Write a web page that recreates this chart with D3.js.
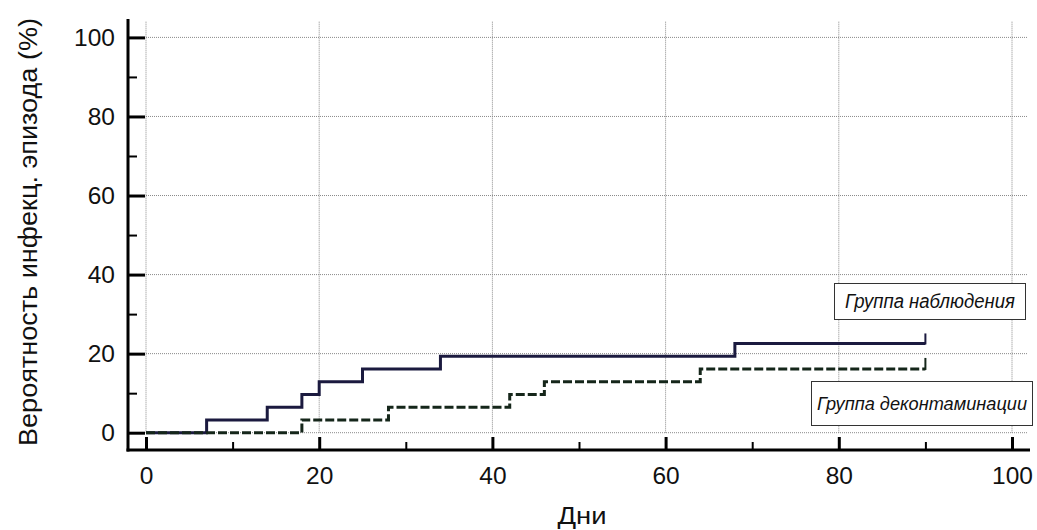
<!DOCTYPE html>
<html>
<head>
<meta charset="utf-8">
<script src="https://cdn.jsdelivr.net/npm/d3@7"></script>
<style>
  html, body { margin: 0; padding: 0; background: #fff; }
  svg { display: block; font-family: Arial, "Liberation Sans", sans-serif; }
</style>
</head>
<body>
<svg id="chart" width="1037" height="530"></svg>
<script>
// ---- data ----
const majorTicks = [0, 20, 40, 60, 80, 100];
const minorTicks = [10, 30, 50, 70, 90];
const seriesNames = ["Группа наблюдения", "Группа деконтаминации"];
// step functions: day at which the probability jumps, and new value (%)
const observDays   = [0, 7, 14, 18, 20, 25, 34, 68, 90];
const observValues = [0, 3.23, 6.45, 9.68, 12.9, 16.13, 19.35, 22.58, 22.58];
const deconDays    = [0, 18, 28, 42, 46, 64, 90];
const deconValues  = [0, 3.23, 6.45, 9.68, 12.9, 16.13, 16.13];
const xTitle = "Дни";
const yTitle = "Вероятность инфекц. эпизода (%)";

const svg = d3.select("#chart");
const x = d3.scaleLinear().domain([0, 100]).range([146, 1012]);
const y = d3.scaleLinear().domain([0, 100]).range([432.7, 37.4]);

const axisX = 128, axisY = 450;
const gridColor = "#8a8a8a";
const font = "Arial, 'Liberation Sans', sans-serif";

// grid
const grid = svg.append("g");
grid.selectAll("line.h").data(majorTicks).join("line")
  .attr("x1", x(0)).attr("x2", x(101.8))
  .attr("y1", d => y(d)).attr("y2", d => y(d))
  .attr("stroke", gridColor).attr("stroke-width", 1).attr("stroke-dasharray", "1,1");
grid.selectAll("line.v").data(majorTicks).join("line")
  .attr("y1", y(0)).attr("y2", y(104))
  .attr("x1", d => x(d)).attr("x2", d => x(d))
  .attr("stroke", gridColor).attr("stroke-width", 1).attr("stroke-dasharray", "1,1");

// axes
const yAxis = d3.axisLeft(y).tickValues(majorTicks).tickSizeInner(-17).tickSizeOuter(0).tickPadding(13);
const gy = svg.append("g").attr("transform", `translate(${axisX},0)`).call(yAxis);
const yMinor = d3.axisLeft(y).tickValues(minorTicks).tickSizeInner(-9).tickSizeOuter(0).tickFormat("");
const gym = svg.append("g").attr("transform", `translate(${axisX},0)`).call(yMinor);

const xAxis = d3.axisBottom(x).tickValues(majorTicks).tickSizeInner(-13).tickSizeOuter(0).tickPadding(17);
const gx = svg.append("g").attr("transform", `translate(0,${axisY})`).call(xAxis);
const xMinor = d3.axisBottom(x).tickValues(minorTicks).tickSizeInner(-8).tickSizeOuter(0).tickFormat("");
const gxm = svg.append("g").attr("transform", `translate(0,${axisY})`).call(xMinor);

[gy, gym, gx, gxm].forEach(g => {
  g.select(".domain").remove();
  g.selectAll(".tick text").attr("font-size", 24.5).attr("fill", "#111").attr("font-family", font);
});
gy.selectAll(".tick line").attr("stroke", "#000").attr("stroke-width", 3);
gx.selectAll(".tick line").attr("stroke", "#000").attr("stroke-width", 3);
gym.selectAll(".tick line").attr("stroke", "#000").attr("stroke-width", 2);
gxm.selectAll(".tick line").attr("stroke", "#000").attr("stroke-width", 2);

// axis lines
svg.append("line").attr("x1", axisX).attr("x2", axisX).attr("y1", 19).attr("y2", axisY + 1.5)
  .attr("stroke", "#000").attr("stroke-width", 3);
svg.append("line").attr("x1", axisX - 1.5).attr("x2", 1030).attr("y1", axisY).attr("y2", axisY)
  .attr("stroke", "#000").attr("stroke-width", 3);

// titles
svg.append("text").attr("x", 582).attr("y", 524).attr("text-anchor", "middle")
  .attr("font-size", 23.5).attr("fill", "#111")
  .attr("textLength", 49).attr("lengthAdjust", "spacingAndGlyphs").text(xTitle);
svg.append("text").attr("transform", `translate(37,232) rotate(-90)`)
  .attr("text-anchor", "middle").attr("font-size", 25).attr("fill", "#111")
  .attr("textLength", 428).attr("lengthAdjust", "spacingAndGlyphs").text(yTitle);

// step lines
const line = d3.line().x(d => x(d[0])).y(d => y(d[1])).curve(d3.curveStepAfter);
const observ = observDays.map((d, i) => [d, observValues[i]]);
const decon = deconDays.map((d, i) => [d, deconValues[i]]);

svg.append("path").datum(observ).attr("d", line)
  .attr("fill", "none").attr("stroke", "#1b1a3f").attr("stroke-width", 3).attr("stroke-linejoin", "miter");
svg.append("path").datum(decon).attr("d", line)
  .attr("fill", "none").attr("stroke", "#15261a").attr("stroke-width", 3).attr("stroke-dasharray", "9,3");

// censor marks at the end
const lastO = observ[observ.length - 1], lastD = decon[decon.length - 1];
svg.append("line").attr("x1", x(lastO[0])).attr("x2", x(lastO[0]))
  .attr("y1", y(lastO[1]) + 1).attr("y2", y(lastO[1]) - 10).attr("stroke", "#1b1a3f").attr("stroke-width", 2);
svg.append("line").attr("x1", x(lastD[0])).attr("x2", x(lastD[0]))
  .attr("y1", y(lastD[1]) + 1).attr("y2", y(lastD[1]) - 11).attr("stroke", "#15261a").attr("stroke-width", 2);

// labels (legend boxes)
const labels = [
  { name: seriesNames[0], x0: 834, y0: 283, w: 191, h: 36, fs: 19.5, tl: 170 },
  { name: seriesNames[1], x0: 811, y0: 381, w: 221, h: 44, fs: 18.5, tl: 210 }
];
labels.forEach(l => {
  svg.append("rect").attr("x", l.x0 + 0.5).attr("y", l.y0 + 0.5).attr("width", l.w).attr("height", l.h)
    .attr("fill", "#fff").attr("stroke", "#333").attr("stroke-width", 1);
  svg.append("text").attr("x", l.x0 + l.w / 2 + 0.5).attr("y", l.y0 + l.h / 2 + 7)
    .attr("text-anchor", "middle").attr("font-size", l.fs).attr("font-style", "italic")
    .attr("fill", "#111").attr("textLength", l.tl).attr("lengthAdjust", "spacingAndGlyphs").text(l.name);
});
</script>
</body>
</html>
